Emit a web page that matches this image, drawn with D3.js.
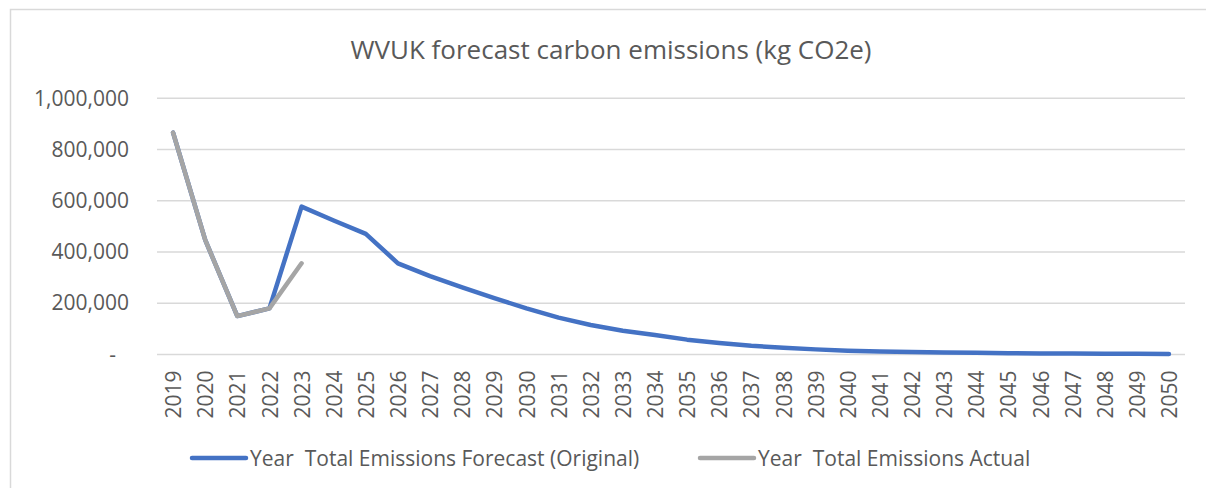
<!DOCTYPE html>
<html>
<head>
<meta charset="utf-8">
<script src="https://cdn.jsdelivr.net/npm/d3@7"></script>
<style>
  body { margin: 0; background: #fff; }
  text { font-family: "Open Sans", sans-serif; fill: #595959; }
</style>
</head>
<body>
<script>
// chart data
var years = ["2019","2020","2021","2022","2023","2024","2025","2026","2027","2028",
             "2029","2030","2031","2032","2033","2034","2035","2036","2037","2038",
             "2039","2040","2041","2042","2043","2044","2045","2046","2047","2048",
             "2049","2050"];
var forecast = [866000, 447000, 150000, 180000, 577000, 523000, 471000, 356000, 306000, 262000,
                220000, 180000, 144000, 115000, 93000, 76000, 58000, 45000, 34000, 26500,
                20000, 15000, 12000, 10000, 8000, 6500, 5000, 4000, 3500, 3000,
                2500, 2000];
var actual = [866000, 447000, 150000, 180000, 356000];
var yTicks = [0, 200000, 400000, 600000, 800000, 1000000];
var seriesNames = ["Year  Total Emissions Forecast (Original)", "Year  Total Emissions Actual"];
var colors = ["#4472C4", "#A5A5A5"];

var W = 1206, H = 488;
var plot = {left: 157, right: 1185, top: 98.3, bottom: 354.5};

var svg = d3.select("body").append("svg")
    .attr("width", W)
    .attr("height", H);

svg.append("rect")
    .attr("x", 10.5).attr("y", 9.5)
    .attr("width", W).attr("height", H)
    .attr("fill", "#fff")
    .attr("stroke", "#D9D9D9")
    .attr("stroke-width", 1.5);

// scales
var x = d3.scalePoint()
    .domain(years)
    .range([plot.left, plot.right])
    .padding(0.5);
var y = d3.scaleLinear()
    .domain([0, 1000000])
    .range([plot.bottom, plot.top]);

// title
svg.append("text")
    .attr("x", 611).attr("y", 59)
    .attr("text-anchor", "middle")
    .style("font-size", "26px")
    .text("WVUK forecast carbon emissions (kg CO2e)");

// gridlines
svg.append("g").selectAll("line")
    .data(yTicks)
  .enter().append("line")
    .attr("x1", plot.left).attr("x2", plot.right)
    .attr("y1", function(d) { return y(d); })
    .attr("y2", function(d) { return y(d); })
    .attr("stroke", "#D9D9D9")
    .attr("stroke-width", 1.5);

// y axis labels
var fmt = d3.format(",");
var yAxis = d3.axisLeft(y)
    .tickValues(yTicks)
    .tickSize(0)
    .tickPadding(28)
    .tickFormat(function(d) { return d === 0 ? "-" : fmt(d); });
var gy = svg.append("g")
    .attr("transform", "translate(" + plot.left + ",0)")
    .call(yAxis);
gy.select(".domain").remove();
gy.selectAll("text")
    .style("font-size", "21px")
    .style("font-family", "'Open Sans', sans-serif")
    .attr("fill", "#595959")
    .attr("dx", function(d) { return d === 0 ? -13 : 0; });

// x axis labels
var xAxis = d3.axisBottom(x).tickSize(0).tickPadding(0);
var gx = svg.append("g")
    .attr("transform", "translate(0," + plot.bottom + ")")
    .call(xAxis);
gx.select(".domain").remove();
gx.selectAll("text")
    .style("font-size", "21px")
    .style("font-family", "'Open Sans', sans-serif")
    .attr("fill", "#595959")
    .attr("text-anchor", "end")
    .attr("transform", "rotate(-90)")
    .attr("x", -16)
    .attr("y", 0)
    .attr("dy", "0.36em");

// lines
var line = d3.line()
    .defined(function(d) { return d != null; })
    .x(function(d, i) { return x(years[i]); })
    .y(function(d) { return y(d); });

[forecast, actual].forEach(function(s, k) {
  svg.append("path")
      .datum(s)
      .attr("d", line)
      .attr("fill", "none")
      .attr("stroke", colors[k])
      .attr("stroke-width", 4.5)
      .attr("stroke-linejoin", "round")
      .attr("stroke-linecap", "round");
});

// legend
var legendX = [192, 700];
var leg = svg.append("g").selectAll("g")
    .data(seriesNames)
  .enter().append("g")
    .attr("transform", function(d, i) { return "translate(" + legendX[i] + ",458)"; });
leg.append("line")
    .attr("x1", 0).attr("x2", 54)
    .attr("stroke", function(d, i) { return colors[i]; })
    .attr("stroke-width", 4.5)
    .attr("stroke-linecap", "round");
leg.append("text")
    .attr("x", 58)
    .attr("dy", "0.36em")
    .style("font-size", "21px")
    .style("white-space", "pre")
    .attr("xml:space", "preserve")
    .text(function(d) { return d; });
</script>
</body>
</html>
